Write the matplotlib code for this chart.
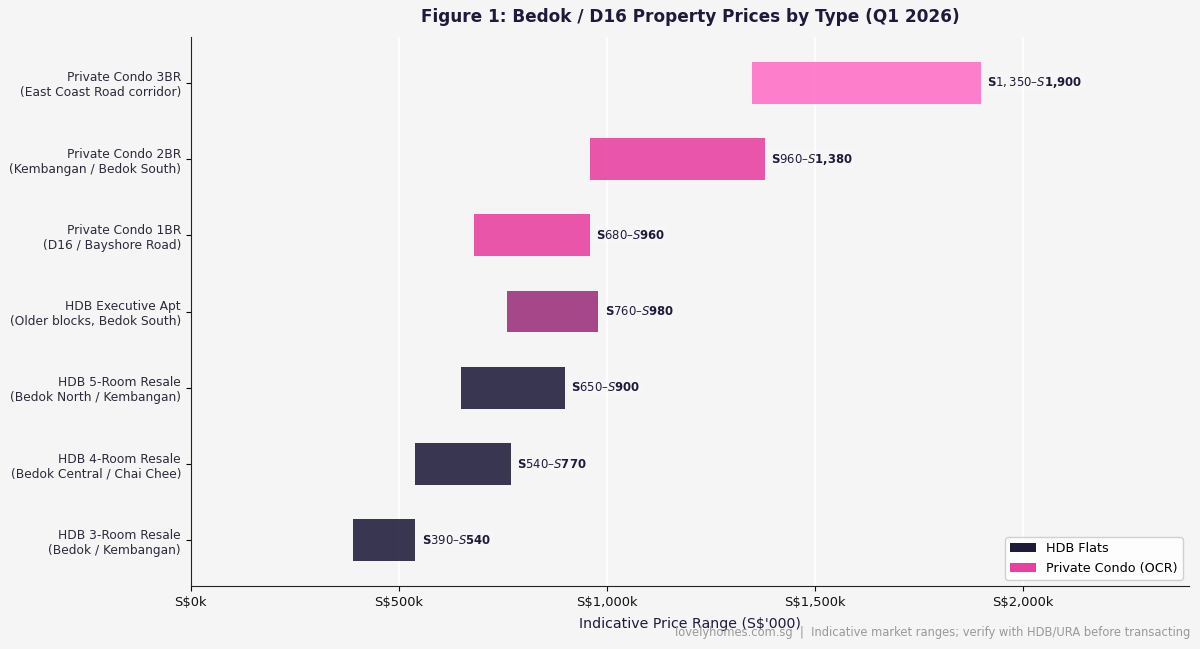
import matplotlib
matplotlib.use("Agg")
import matplotlib.pyplot as plt
from matplotlib.patches import Patch

categories = [
    "HDB 3-Room Resale\n(Bedok / Kembangan)",
    "HDB 4-Room Resale\n(Bedok Central / Chai Chee)",
    "HDB 5-Room Resale\n(Bedok North / Kembangan)",
    "HDB Executive Apt\n(Older blocks, Bedok South)",
    "Private Condo 1BR\n(D16 / Bayshore Road)",
    "Private Condo 2BR\n(Kembangan / Bedok South)",
    "Private Condo 3BR\n(East Coast Road corridor)",
]
low = [390, 540, 650, 760, 680, 960, 1350]
high = [540, 770, 900, 980, 960, 1380, 1900]
colors = ["#1e1b3a", "#1e1b3a", "#1e1b3a", "#9b2f7a", "#e8409f", "#e8409f", "#ff6ec4"]
xticks = [0, 500, 1000, 1500, 2000]
xticklabels = ["S$0k", "S$500k", "S$1,000k", "S$1,500k", "S$2,000k"]

BG = "#f5f5f5"
DARK = "#1e1b3a"

fig = plt.figure(figsize=(12, 6.49), dpi=100, facecolor=BG)
ax = fig.add_axes([0.159, 0.097, 0.832, 0.846], facecolor=BG)

y = list(range(len(categories)))
widths = [h - l for l, h in zip(low, high)]
ax.barh(y, widths, left=low, height=0.55, color=colors, alpha=0.88, zorder=3)

for yi, l, h in zip(y, low, high):
    ax.text(h + 15, yi, f"S${l:,}–S${h:,}", va="center", ha="left",
            fontsize=8.4, fontweight="bold", color=DARK, zorder=4,
            bbox=dict(boxstyle="square,pad=0.2", facecolor="white", edgecolor="none", alpha=0.15))

ax.set_yticks(y)
ax.set_yticklabels(categories, fontsize=8.8, color="#2a2a3a")
ax.set_xticks(xticks)
ax.set_xticklabels(xticklabels, fontsize=9.4, color="#111111")
ax.set_xlim(0, 2400)
ax.set_ylim(-0.6, 6.6)
ax.set_xlabel("Indicative Price Range (S$'000)", fontsize=10.2, color="#1e1b3a", labelpad=6)
ax.set_title("Figure 1: Bedok / D16 Property Prices by Type (Q1 2026)",
             fontsize=12.2, fontweight="bold", color=DARK, pad=11)

ax.grid(axis="x", color="white", linewidth=1.2, zorder=0)
ax.set_axisbelow(True)
for s in ["top", "right"]:
    ax.spines[s].set_visible(False)
ax.spines["left"].set_color("#222222")
ax.spines["bottom"].set_color("#222222")

handles = [Patch(facecolor="#1e1b3a", label="HDB Flats"),
           Patch(facecolor="#e8409f", label="Private Condo (OCR)")]
leg = ax.legend(handles=handles, loc="lower right", fontsize=9.2, frameon=True,
                facecolor="white", edgecolor="#cccccc", framealpha=0.9)

fig.text(0.992, 0.026, "lovelyhomes.com.sg  |  Indicative market ranges; verify with HDB/URA before transacting",
         ha="right", va="center", fontsize=8.3, color="#999999")

fig.savefig("out.png", dpi=100, facecolor=BG)
